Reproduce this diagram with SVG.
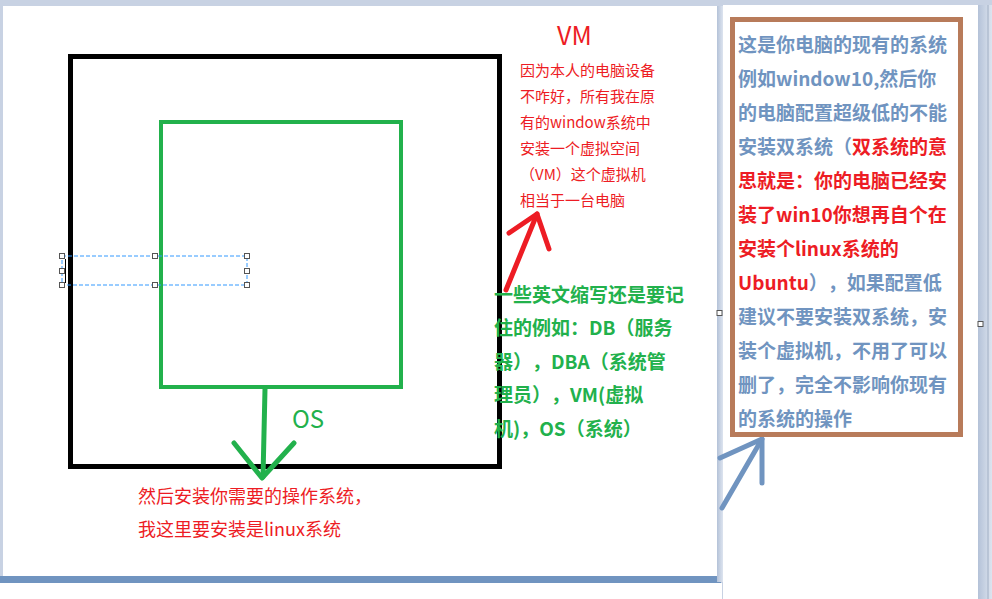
<svg xmlns="http://www.w3.org/2000/svg" width="992" height="599" viewBox="0 0 992 599">
<defs>
<linearGradient id="edge" x1="0" y1="0" x2="1" y2="0">
<stop offset="0" stop-color="#b4c2d8"/><stop offset="1" stop-color="#dde4ef"/>
</linearGradient>
<style>
text{font-family:"Noto Sans CJK SC","Liberation Sans",sans-serif;text-spacing-trim:space-all;}
.red{fill:#ed1c24;}
.grn{fill:#22b14c;}
.blu{fill:#7094c0;}
.b{font-weight:bold;}
.h{fill:#fff;stroke:#555;stroke-width:1;}
.sel{fill:none;stroke:#3399ff;stroke-width:1;stroke-dasharray:4 2;}
.pen{fill:none;stroke-width:5;stroke-linecap:round;stroke-linejoin:round;}
</style>
</defs>
<rect x="0" y="0" width="992" height="599" fill="#c8d2e3"/>
<rect x="3" y="6" width="714" height="570" fill="#fff"/>
<rect x="0" y="583" width="722" height="16" fill="#fff"/>
<rect x="0" y="576" width="721" height="7" fill="#7094c0"/>
<rect x="717" y="6" width="6" height="576" fill="url(#edge)"/>
<rect x="723" y="5" width="255" height="594" fill="#fff"/>
<rect x="978" y="5" width="14" height="594" fill="url(#edge)"/>
<line x1="988" y1="5" x2="988" y2="599" stroke="#a0aec4" stroke-width="1"/>

<g id="vm-box">
<rect x="70.5" y="56.5" width="429" height="410" fill="none" stroke="#000" stroke-width="5"/>
</g>
<g id="os-box">
<rect x="161" y="122" width="240" height="265" fill="none" stroke="#22b14c" stroke-width="4"/>
</g>

<g id="selection">
<rect x="62" y="256" width="185" height="29" class="sel"/>
<line x1="65.5" y1="259" x2="65.5" y2="283" stroke="#000" stroke-width="1"/>
<rect x="59.5" y="253.5" width="5" height="5" class="h"/>
<rect x="152.5" y="253.5" width="5" height="5" class="h"/>
<rect x="244.5" y="253.5" width="5" height="5" class="h"/>
<rect x="59.5" y="268.5" width="5" height="5" class="h"/>
<rect x="244.5" y="268.5" width="5" height="5" class="h"/>
<rect x="59.5" y="282.5" width="5" height="5" class="h"/>
<rect x="152.5" y="282.5" width="5" height="5" class="h"/>
<rect x="244.5" y="282.5" width="5" height="5" class="h"/>
<rect x="717" y="310.5" width="5" height="5" class="h"/>
<rect x="978" y="321.5" width="5" height="5" class="h"/>
</g>

<g id="connectors">
<g stroke="#22b14c" class="pen">
<path d="M265 389 L263 477"/>
<path d="M234 443 L262 478 L294 443"/>
</g>
<g stroke="#ed1c24" class="pen">
<path d="M506 290 L537 214"/>
<path d="M509 233 L537 214 L549 249"/>
</g>
<g stroke="#7094c0" class="pen">
<path d="M722 508 L762 439"/>
<path d="M720 458 L762 439 L762 483"/>
</g>
</g>

<g id="os-label">
<text x="292" y="428" font-size="24" class="grn">OS</text>
</g>

<g id="vm-note">
<text x="557" y="45" font-size="25" class="red">VM</text>
<g font-size="15" class="red">
<text x="520" y="76">因为本人的电脑设备</text>
<text x="520" y="102">不咋好，所有我在原</text>
<text x="520" y="128">有的window系统中</text>
<text x="520" y="154">安装一个虚拟空间</text>
<text x="520" y="180">（VM）这个虚拟机</text>
<text x="520" y="206">相当于一台电脑</text>
</g>
</g>

<g id="abbr-note" font-size="19" class="grn b">
<text x="494" y="302">一些英文缩写还是要记</text>
<text x="494" y="335">住的例如：DB（服务</text>
<text x="494" y="369">器），DBA（系统管</text>
<text x="494" y="402">理员），VM(虚拟</text>
<text x="494" y="436">机)，OS（系统）</text>
</g>

<g id="install-note" font-size="18" class="red">
<text x="138" y="503">然后安装你需要的操作系统，</text>
<text x="138" y="536">我这里要安装是linux系统</text>
</g>

<g id="system-note">
<rect x="732.5" y="19.5" width="228" height="415" fill="#fff" stroke="#b87b5a" stroke-width="5"/>
<g font-size="19" class="b">
<text x="738" y="52" class="blu">这是你电脑的现有的系统</text>
<text x="738" y="86" class="blu">例如window10,然后你</text>
<text x="738" y="120" class="blu">的电脑配置超级低的不能</text>
<text x="738" y="154"><tspan class="blu">安装双系统（</tspan><tspan class="red">双系统的意</tspan></text>
<text x="738" y="188" class="red">思就是：你的电脑已经安</text>
<text x="738" y="222" class="red">装了win10你想再自个在</text>
<text x="738" y="256" class="red">安装个linux系统的</text>
<text x="738" y="290"><tspan class="red">Ubuntu</tspan><tspan class="blu">），如果配置低</tspan></text>
<text x="738" y="324" class="blu">建议不要安装双系统，安</text>
<text x="738" y="358" class="blu">装个虚拟机，不用了可以</text>
<text x="738" y="392" class="blu">删了，完全不影响你现有</text>
<text x="738" y="426" class="blu">的系统的操作</text>
</g>
</g>
</svg>
